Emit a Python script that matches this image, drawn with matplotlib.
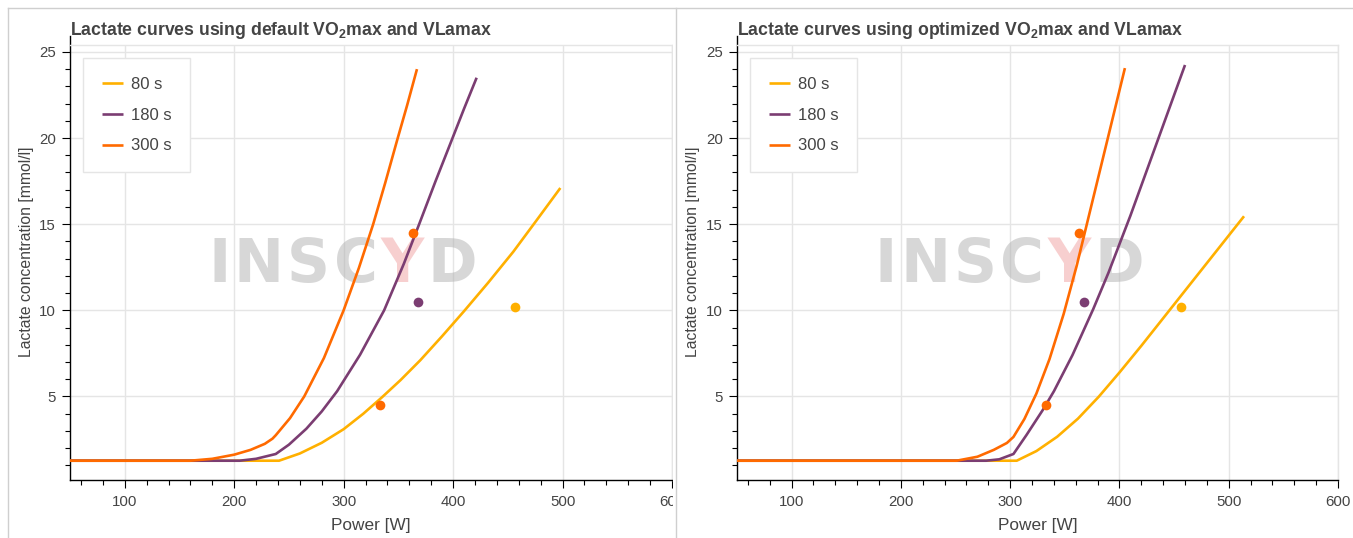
import matplotlib
matplotlib.use("Agg")
import matplotlib.pyplot as plt
from matplotlib.ticker import MultipleLocator
from matplotlib.lines import Line2D
from matplotlib.patches import Rectangle
from matplotlib.offsetbox import TextArea, HPacker, AnchoredOffsetbox

plt.rcParams['font.family'] = ['Liberation Sans', 'DejaVu Sans']
plt.rcParams['mathtext.fontset'] = 'custom'
plt.rcParams['mathtext.rm'] = 'Liberation Sans'
plt.rcParams['mathtext.bf'] = 'Liberation Sans:bold'

# ---------------- data ----------------
series_labels = ['80 s', '180 s', '300 s']
series_colors = ['#ffb000', '#7b3d72', '#ff6a00']

# default VO2max / VLamax
default_80_w = [50, 241, 260, 280, 300, 318, 335, 352, 370, 390, 410, 432, 455, 476, 498]
default_80_y = [1.27, 1.27, 1.69, 2.31, 3.1, 4.0, 4.95, 5.95, 7.1, 8.5, 9.95, 11.6, 13.4, 15.2, 17.1]
default_180_w = [50, 205, 220, 238, 250, 266, 280, 294, 315, 337, 355, 369, 384, 399.5, 410, 421.5]
default_180_y = [1.27, 1.27, 1.38, 1.66, 2.2, 3.13, 4.13, 5.3, 7.42, 10.0, 12.7, 15.0, 17.5, 20.0, 21.7, 23.5]
default_300_w = [50, 160, 180, 200, 215, 228, 235, 238, 251, 264, 282, 300, 314, 327, 338, 349, 358, 367]
default_300_y = [1.27, 1.27, 1.38, 1.62, 1.9, 2.25, 2.55, 2.75, 3.74, 5.0, 7.23, 10.0, 12.47, 15.0, 17.4, 19.9, 21.9, 24.0]

# optimized VO2max / VLamax
optimized_80_w = [50, 306, 324, 343, 362, 381, 400, 420, 448, 470, 489, 514]
optimized_80_y = [1.27, 1.27, 1.83, 2.66, 3.71, 4.98, 6.39, 7.94, 10.18, 11.94, 13.46, 15.46]
optimized_180_w = [50, 278, 290, 303, 315, 330, 340, 357, 376, 390, 410, 420, 440, 460]
optimized_180_y = [1.27, 1.27, 1.35, 1.66, 2.77, 4.23, 5.3, 7.4, 10.07, 12.19, 15.49, 17.24, 20.74, 24.24]
optimized_300_w = [50, 251, 270, 285, 297, 303, 313, 324, 336, 349, 361, 369, 388.5, 405]
optimized_300_y = [1.27, 1.27, 1.5, 1.9, 2.3, 2.65, 3.69, 5.17, 7.17, 9.8, 12.62, 14.7, 19.77, 24.06]

# measured test points
point_w = [456.5, 368, 333, 363]
point_y = [10.2, 10.5, 4.5, 14.5]
point_colors = ['#ffb000', '#7b3d72', '#ff6a00', '#ff6a00']

titles = ['Lactate curves using default VO$_{\\mathbf{2}}$max and VLamax',
          'Lactate curves using optimized VO$_{\\mathbf{2}}$max and VLamax']

# ---------------- figure ----------------
W, H = 1353, 538
fig = plt.figure(figsize=(W / 100, H / 100), dpi=100)
fig.patch.set_facecolor('white')

TXT = '#444444'
GRID = '#e5e5e5'


def px_axes(x0, x1, y0, y1):
    return fig.add_axes([x0 / W, 1 - y1 / H, (x1 - x0) / W, (y1 - y0) / H])


ax1 = px_axes(70, 672, 45, 480)
ax2 = px_axes(737, 1338, 45, 480)

panels = [
    (ax1, [(default_80_w, default_80_y), (default_180_w, default_180_y), (default_300_w, default_300_y)], titles[0], 70, -0.0598),
    (ax2, [(optimized_80_w, optimized_80_y), (optimized_180_w, optimized_180_y), (optimized_300_w, optimized_300_y)], titles[1], 737, -0.0616),
]

for ax, curves, title, left_px, ylab_x in panels:
    ax.set_xlim(50, 600)
    ax.set_ylim(0.15, 25.4)
    ax.set_facecolor('white')
    ax.grid(True, color=GRID, lw=1.0, zorder=0)
    ax.set_axisbelow(True)
    for s in ['top', 'right']:
        ax.spines[s].set_color(GRID)
        ax.spines[s].set_linewidth(1.0)
    for s in ['left', 'bottom']:
        ax.spines[s].set_color('black')
        ax.spines[s].set_linewidth(1.0)
    ax.spines['left'].set_bounds(0.15, 25.92)
    ax.xaxis.set_major_locator(MultipleLocator(100))
    ax.xaxis.set_minor_locator(MultipleLocator(20))
    ax.yaxis.set_major_locator(MultipleLocator(5))
    ax.yaxis.set_minor_locator(MultipleLocator(1))
    ax.set_yticks([5, 10, 15, 20, 25])
    ax.set_xticks([100, 200, 300, 400, 500, 600])
    ax.tick_params(which='major', direction='out', length=6, width=0.8, colors='black',
                   labelcolor=TXT, labelsize=10.8, pad=4)
    ax.tick_params(which='minor', direction='out', length=3.5, width=0.8, colors='black')
    ax.tick_params(axis='x', which='major', pad=5)

    for (xs, ys), c, lab in zip(curves, series_colors, series_labels):
        ax.plot(xs, ys, color=c, lw=1.9, label=lab, zorder=3, solid_capstyle='butt',
                solid_joinstyle='round')
    for xw, yv, c in zip(point_w, point_y, point_colors):
        ax.plot([xw], [yv], 'o', color=c, ms=7, mec='none', zorder=4)

    ax.set_xlabel('Power [W]', fontsize=12.4, color=TXT, labelpad=6)
    ax.set_ylabel('Lactate concentration [mmol/l]', fontsize=11.3, color=TXT)
    ax.yaxis.set_label_coords(ylab_x, 0.524)

    leg = ax.legend(loc='upper left', bbox_to_anchor=(13 / 602, 1 - 13 / 435),
                    fontsize=12.0, frameon=True, fancybox=False, framealpha=1,
                    edgecolor=GRID, handlelength=1.3, handletextpad=0.45,
                    labelspacing=0.95, borderpad=1.12, borderaxespad=0)
    for t in leg.get_texts():
        t.set_color(TXT)
    leg.get_frame().set_linewidth(1.0)

    # watermark
    letters = [('I', '#b0b0b0'), ('N', '#b0b0b0'), ('S', '#b0b0b0'), ('C', '#b0b0b0'),
               ('Y', '#f0a0a0'), ('D', '#b0b0b0')]
    boxes = [TextArea(ch, textprops=dict(color=col, alpha=0.5, fontsize=43,
                                         family='DejaVu Sans', fontweight='bold'))
             for ch, col in letters]
    pack = HPacker(children=boxes, align='baseline', pad=0, sep=2.5)
    anch = AnchoredOffsetbox(loc='center', child=pack, frameon=False, pad=0, borderpad=0,
                             bbox_to_anchor=(0.453, 0.494), bbox_transform=ax.transAxes)
    anch.set_zorder(2)
    ax.add_artist(anch)

    fig.text(left_px / W, 1 - 35 / H, title, fontsize=12.7, fontweight='bold', color=TXT,
             ha='left', va='baseline')

# clip the left panel at the divider, then panel borders
fig.add_artist(Rectangle((673 / W, 0), 12 / W, 1, transform=fig.transFigure,
                         facecolor='white', edgecolor='none', zorder=5))
BORDER = '#cfcfcf'
for xs, ys in [([8, 8], [8, H]), ([676, 676], [8, H]), ([8, W], [8, 8])]:
    fig.add_artist(Line2D([x / W for x in xs], [1 - y / H for y in ys],
                          transform=fig.transFigure, color=BORDER, lw=1.0, zorder=6))

fig.savefig('out.png', dpi=100, facecolor='white')
